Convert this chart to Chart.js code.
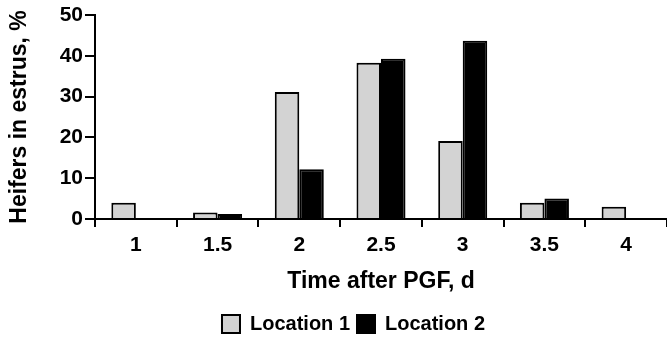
<!DOCTYPE html>
<html><head><meta charset="utf-8">
<script src="https://cdn.jsdelivr.net/npm/chart.js@4.4.0/dist/chart.umd.min.js"></script>
<style>html,body{margin:0;padding:0;background:#fff;}#wrap{width:667px;height:341px;}</style>
</head><body><div id="wrap"><canvas id="c" width="667" height="341"></canvas></div>
<script>
const categories = ['1', '1.5', '2', '2.5', '3', '3.5', '4'];
const location1 = [4.0, 1.6, 31.1, 38.3, 19.1, 4.0, 3.0];
const location2 = [null, 1.2, 12.2, 39.3, 43.7, 5.0, null];
const seriesNames = ['Location 1', 'Location 2'];
const yMin = 0, yMax = 50, yStep = 10;

const FAM = '"Liberation Sans", Arial, Helvetica, sans-serif';
const legendShift = {
  id: 'legendShift',
  afterLayout(chart) {
    const l = chart.legend;
    l.left += 20; l.right += 20; l.top += 3; l.bottom += 3;
  }
};

new Chart(document.getElementById('c'), {
  type: 'bar',
  data: {
    labels: categories,
    datasets: [
      { label: seriesNames[0], data: location1, backgroundColor: '#d3d3d3', borderColor: '#000', borderWidth: 2, borderSkipped: 'start' },
      { label: seriesNames[1], data: location2, backgroundColor: '#000', borderColor: '#000', borderWidth: 2, borderSkipped: 'start' }
    ]
  },
  options: {
    responsive: false,
    animation: false,
    devicePixelRatio: 1,
    layout: { padding: { top: 15, right: 0, left: 0, bottom: 0 } },
    datasets: { bar: { categoryPercentage: 0.6, barPercentage: 1.0 } },
    plugins: {
      tooltip: { enabled: false },
      legend: {
        position: 'bottom',
        labels: { color: '#000', boxWidth: 18, boxHeight: 18, padding: 7, font: { family: FAM, size: 20, weight: 'bold' } }
      }
    },
    scales: {
      x: {
        ticks: { color: '#000', padding: 6, font: { family: FAM, size: 21, weight: 'bold' } },
        grid: { drawOnChartArea: false, offset: true, color: '#000', lineWidth: 2, tickLength: 8 },
        border: { color: '#000', width: 2 },
        title: { display: true, text: 'Time after PGF, d', color: '#000', font: { family: FAM, size: 23, weight: 'bold' }, padding: { top: 0, bottom: 9 } },
        afterFit(s) { s.height = 85; }
      },
      y: {
        min: yMin, max: yMax,
        ticks: { stepSize: yStep, color: '#000', padding: 2, font: { family: FAM, size: 21, weight: 'bold' } },
        grid: { drawOnChartArea: false, color: '#000', lineWidth: 2, tickLength: 10 },
        border: { color: '#000', width: 2 },
        title: { display: true, text: 'Heifers in estrus, %', color: '#000', font: { family: FAM, size: 23, weight: 'bold' }, padding: { top: 6, bottom: 0 } },
        afterFit(s) { s.width = 95; }
      }
    }
  },
  plugins: [legendShift]
});
</script>
</body></html>
